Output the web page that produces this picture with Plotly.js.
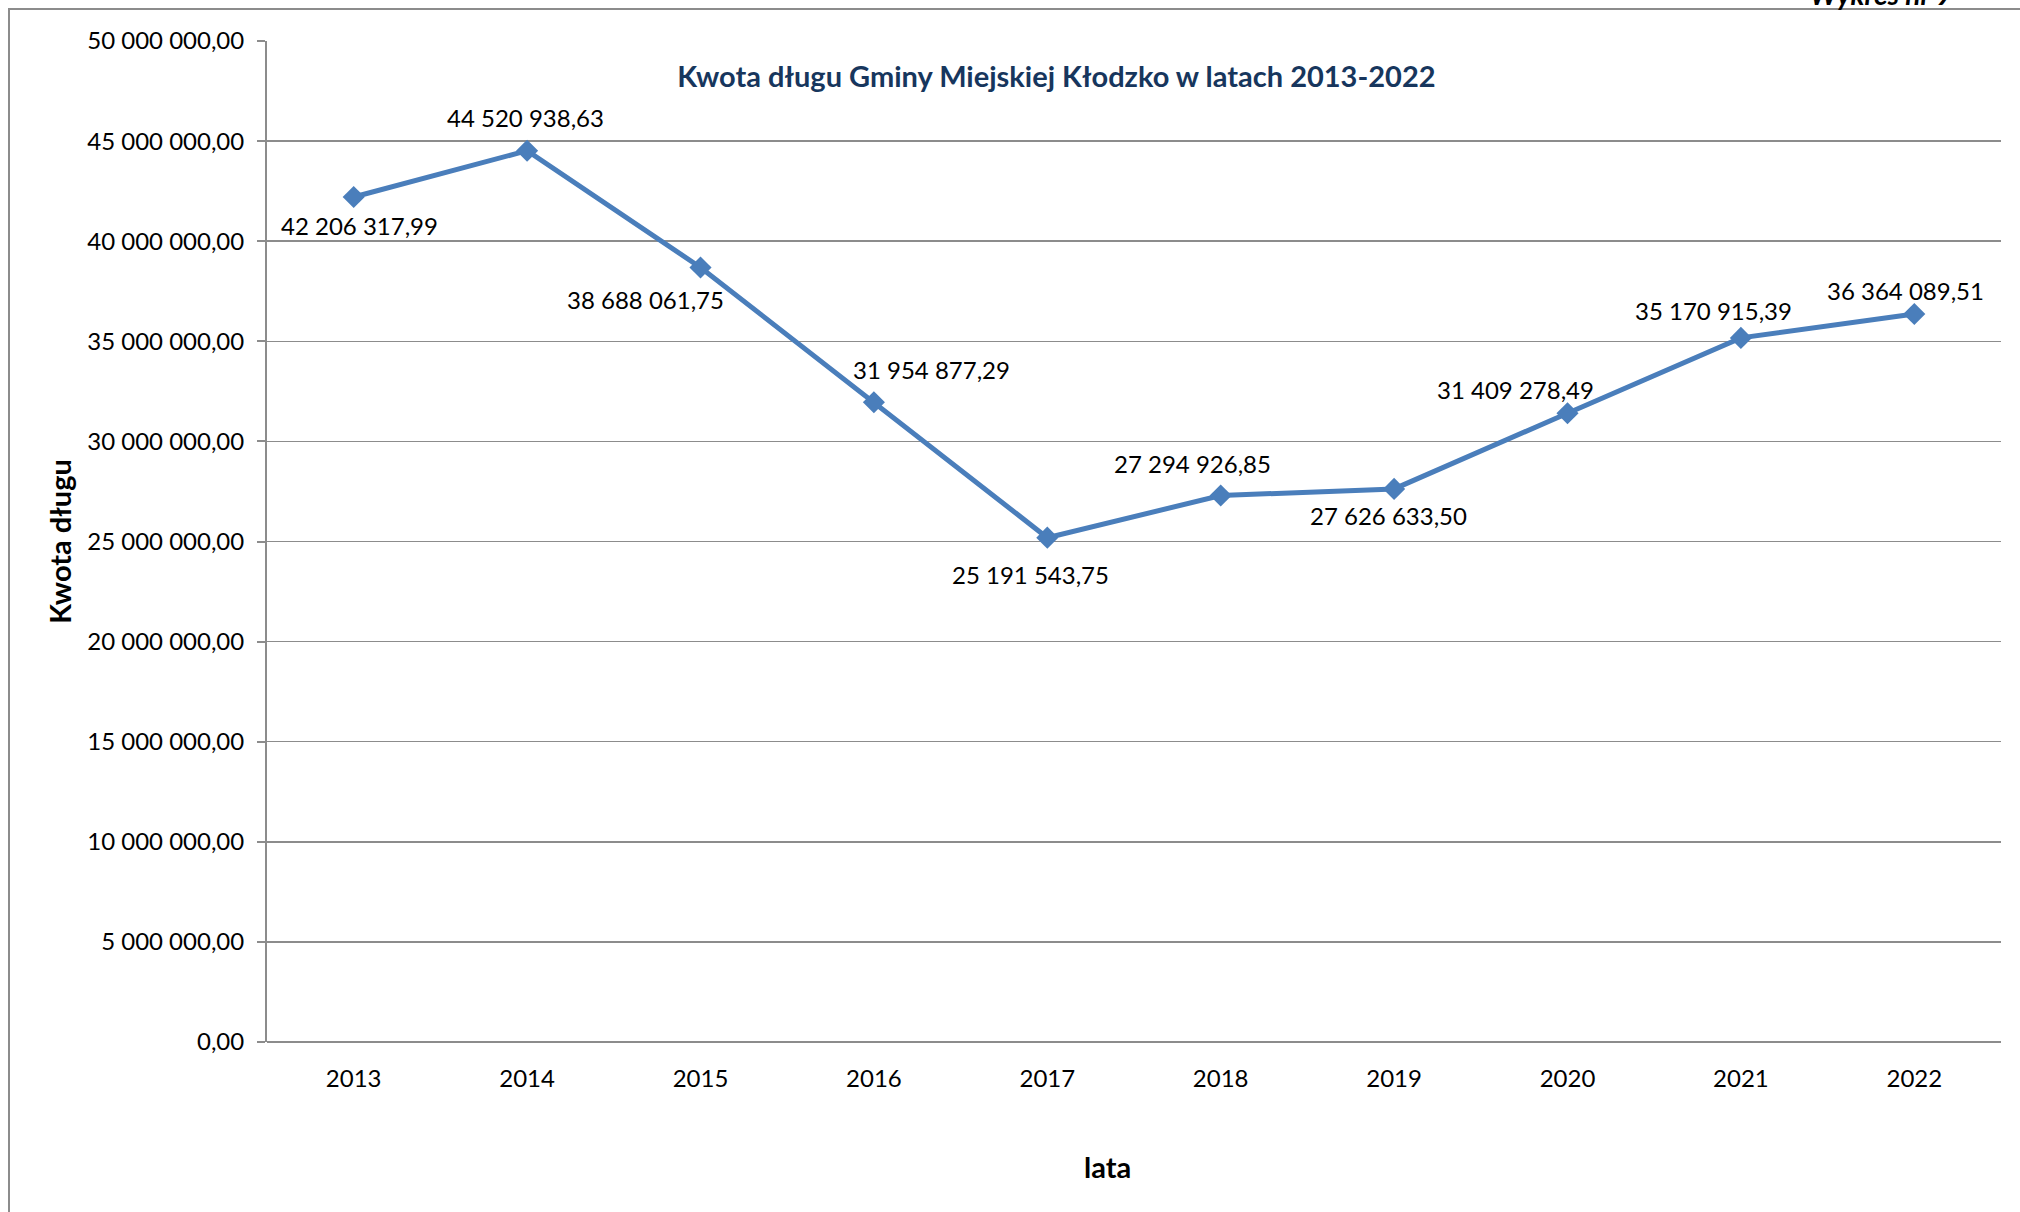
<!DOCTYPE html>
<html>
<head>
<meta charset="utf-8">
<script src="https://cdn.plot.ly/plotly-3.0.1.min.js"></script>
<style>
  html, body { margin: 0; padding: 0; background: #ffffff; }
  #wrap { position: relative; width: 2020px; height: 1212px; overflow: hidden; }
  #frame { position: absolute; left: 8px; top: 8px; width: 2030px; height: 1230px;
           border-left: 2px solid #8c8c8c; border-top: 2px solid #8c8c8c; box-sizing: border-box; }
  #chart { position: absolute; left: 0; top: 0; width: 2020px; height: 1212px; }
</style>
</head>
<body>
<div id="wrap">
  <div id="frame"></div>
  <div id="chart"></div>
</div>
<script>
// ---- data ----
const years = ['2013', '2014', '2015', '2016', '2017', '2018', '2019', '2020', '2021', '2022'];
const debt = [42206317.99, 44520938.63, 38688061.75, 31954877.29, 25191543.75,
              27294926.85, 27626633.50, 31409278.49, 35170915.39, 36364089.51];
const yTickVals = [0, 5000000, 10000000, 15000000, 20000000, 25000000, 30000000, 35000000, 40000000, 45000000, 50000000];
// label offsets in pixels (style, not data)
const labelDX = [6, -2, -55, 58, -17, -28, -6, -52, -27, -9];
const labelDY = [-28, 33, -32, 33, -37, 32, -27, 24, 27, 23];

function fmt(v) {
  const parts = v.toFixed(2).split('.');
  const intPart = parts[0].replace(/\B(?=(\d{3})+(?!\d))/g, ' ');
  return intPart + ',' + parts[1];
}

const FONT = 'Lato, "Open Sans", sans-serif';
const GRID = '#8c8c8c';

const trace = {
  type: 'scatter',
  mode: 'lines+markers',
  x: years,
  y: debt,
  line: { color: '#4a7ebb', width: 5 },
  marker: { symbol: 'diamond', size: 17, color: '#4a7ebb' },
  hoverinfo: 'x+y',
  showlegend: false
};

const annotations = years.map((yr, i) => ({
  x: i, y: debt[i], xref: 'x', yref: 'y',
  text: fmt(debt[i]),
  showarrow: false,
  xshift: labelDX[i], yshift: labelDY[i],
  font: { family: FONT, size: 24, color: '#000000' }
}));

// page caption, cut off at the top edge as in the reference
annotations.push({
  xref: 'paper', yref: 'paper', x: 0.931, y: 1.028,
  xanchor: 'center', yanchor: 'bottom',
  text: '<b><i>Wykres nr 9</i></b>', showarrow: false,
  font: { family: FONT, size: 28, color: '#000000' }
});

// x-axis title, placed slightly left of centre like the reference
annotations.push({
  xref: 'paper', yref: 'paper', x: 0.485, y: -0.124,
  xanchor: 'center', yanchor: 'middle',
  text: '<b>lata</b>', showarrow: false,
  font: { family: FONT, size: 29, color: '#000000' }
});

const layout = {
  width: 2020, height: 1212,
  margin: { l: 267, r: 19, t: 41, b: 170 },
  paper_bgcolor: 'rgba(0,0,0,0)',
  plot_bgcolor: '#ffffff',
  separators: ', ',
  font: { family: FONT, size: 24, color: '#000000' },
  title: {
    text: '<b>Kwota długu Gminy Miejskiej Kłodzko w latach 2013-2022</b>',
    xref: 'container', yref: 'container', x: 0.523, y: 0.937,
    xanchor: 'center', yanchor: 'middle',
    font: { family: FONT, size: 29, color: '#17365d' }
  },
  xaxis: {
    type: 'category',
    range: [-0.5, 9.5],
    showgrid: false,
    showline: false,
    zeroline: false,
    ticks: '',
    tickfont: { family: FONT, size: 24, color: '#000000' },
    ticklabelstandoff: 20,
    fixedrange: true
  },
  yaxis: {
    range: [0, 50000000],
    tickvals: yTickVals,
    tickformat: ',.2f',
    showgrid: true,
    gridcolor: GRID,
    gridwidth: 1.5,
    zeroline: true,
    zerolinecolor: GRID,
    zerolinewidth: 2,
    showline: true,
    linecolor: GRID,
    linewidth: 2,
    ticks: 'outside',
    ticklen: 8,
    tickcolor: GRID,
    tickwidth: 2,
    ticklabelstandoff: 8,
    tickfont: { family: FONT, size: 24, color: '#000000' },
    title: { text: '<b>Kwota długu</b>', standoff: 7, font: { family: FONT, size: 29, color: '#000000' } },
    automargin: false,
    fixedrange: true
  },
  annotations: annotations
};

Plotly.newPlot('chart', [trace], layout, { displayModeBar: false, staticPlot: true });
</script>
</body>
</html>
